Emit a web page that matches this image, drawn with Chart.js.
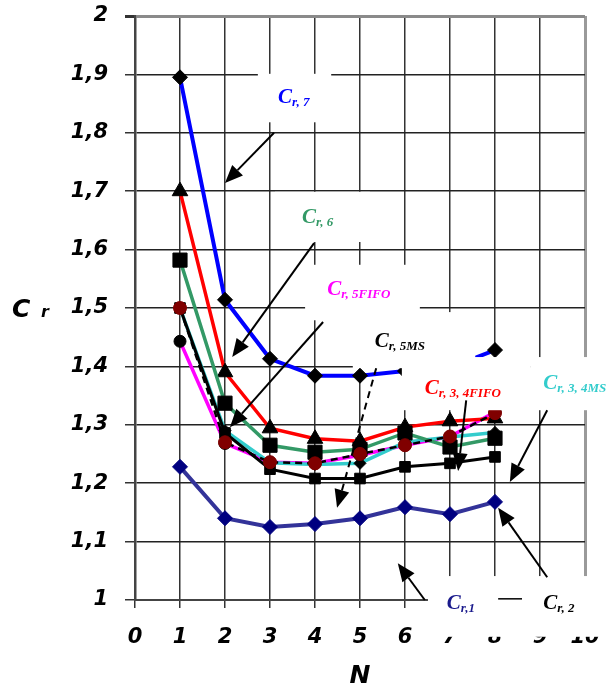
<!DOCTYPE html>
<html>
<head>
<meta charset="utf-8">
<script src="https://cdn.jsdelivr.net/npm/chart.js@4"></script>
<style>
  html, body { margin: 0; padding: 0; background: #fff; }
</style>
</head>
<body>
<canvas id="myChart" width="608" height="691"></canvas>
<script>
// data
const nValues = [1, 2, 3, 4, 5, 6, 7, 8];
const cr1 = [1.228, 1.140, 1.125, 1.130, 1.140, 1.159, 1.147, 1.168];
const cr2 = [1.500, 1.286, 1.224, 1.208, 1.208, 1.228, 1.234, 1.245];
const cr34ms = [1.500, 1.290, 1.235, 1.232, 1.234, 1.270, 1.279, 1.287];
const cr5fifo = [1.443, 1.268, 1.236, 1.234, 1.248, 1.265, 1.280, 1.322];
const cr5ms = [1.500, 1.270, 1.236, 1.234, 1.250, 1.265, 1.280, 1.320];
const cr6 = [1.582, 1.337, 1.265, 1.253, 1.258, 1.286, 1.262, 1.277];
const cr34fifo = [1.700, 1.390, 1.294, 1.276, 1.272, 1.296, 1.306, 1.311];
const cr7 = [1.895, 1.514, 1.413, 1.384, 1.384, 1.392, 1.398, 1.428];

const xTickLabels = ['0', '1', '2', '3', '4', '5', '6', '7', '8', '9', '10'];
const yTickLabels = ['1', '1,1', '1,2', '1,3', '1,4', '1,5', '1,6', '1,7', '1,8', '1,9', '2'];

// curve labels: subscript text, colour, position in (N, Cr) units
const noteLabels = [
  { sub: 'r, 7', color: '#0000FF', n: 3.18, cr: 1.851 },
  { sub: 'r, 6', color: '#339966', n: 3.71, cr: 1.645 },
  { sub: 'r, 5FIFO', color: '#FF00FF', n: 4.27, cr: 1.522 },
  { sub: 'r, 5MS', color: '#000000', n: 5.33, cr: 1.433 },
  { sub: 'r, 3, 4FIFO', color: '#FF0000', n: 6.44, cr: 1.353 },
  { sub: 'r, 3, 4MS', color: '#33CCCC', n: 9.07, cr: 1.361 },
  { sub: 'r,1', color: '#1a1a8c', n: 6.93, cr: 0.985 },
  { sub: 'r, 2', color: '#000000', n: 9.07, cr: 0.985 }
];
// white boxes behind the labels [n0, n1, cr0, cr1]
const noteBoxes = [
  [2.73, 4.36, 1.901, 1.818],
  [3.11, 5.22, 1.699, 1.613],
  [3.78, 6.33, 1.574, 1.479],
  [4.84, 7.56, 1.493, 1.397],
  [5.93, 8.78, 1.416, 1.325],
  [8.78, 10.6, 1.416, 1.325],
  [6.51, 10.6, 1.041, 0.937]
];
// arrows [nFrom, crFrom, nTo, crTo, dashed]
const noteArrows = [
  [3.09, 1.800, 2.00, 1.714, false],
  [3.98, 1.611, 2.16, 1.416, false],
  [4.18, 1.476, 2.11, 1.296, false],
  [5.36, 1.397, 4.49, 1.158, true],
  [7.36, 1.342, 7.18, 1.221, false],
  [9.16, 1.325, 8.33, 1.202, false],
  [9.16, 1.039, 8.07, 1.158, false],
  [6.44, 1.000, 5.84, 1.063, false]
];

function series(data, color, extra) {
  return Object.assign({
    data: nValues.map((n, i) => ({ x: n, y: data[i] })),
    borderColor: color,
    borderWidth: 3.5,
    pointBackgroundColor: '#000',
    pointBorderColor: '#000',
    pointBorderWidth: 1,
    tension: 0,
    fill: false
  }, extra);
}

function drawArrow(ctx, x0, y0, x1, y1, dashed) {
  const a = Math.atan2(y1 - y0, x1 - x0);
  const head = 18, half = 7.5;
  const bx = x1 - head * Math.cos(a), by = y1 - head * Math.sin(a);
  ctx.setLineDash(dashed ? [7, 5] : []);
  ctx.beginPath();
  ctx.moveTo(x0, y0);
  ctx.lineTo(bx, by);
  ctx.stroke();
  ctx.setLineDash([]);
  ctx.beginPath();
  ctx.moveTo(x1, y1);
  ctx.lineTo(bx + half * Math.sin(a), by - half * Math.cos(a));
  ctx.lineTo(bx - half * Math.sin(a), by + half * Math.cos(a));
  ctx.closePath();
  ctx.fill();
}

// labels, boxes and arrows drawn over the chart
const crAnnotations = {
  id: 'crAnnotations',
  afterDraw(chart) {
    const { ctx, scales: { x, y } } = chart;
    ctx.save();

    ctx.fillStyle = '#fff';
    noteBoxes.forEach(b => {
      const x0 = x.getPixelForValue(b[0]), x1 = x.getPixelForValue(b[1]);
      const y0 = y.getPixelForValue(b[2]), y1 = y.getPixelForValue(b[3]);
      ctx.fillRect(x0, y0, x1 - x0, y1 - y0);
    });

    ctx.textAlign = 'left';
    ctx.textBaseline = 'alphabetic';
    noteLabels.forEach(l => {
      const px = x.getPixelForValue(l.n), py = y.getPixelForValue(l.cr);
      ctx.fillStyle = l.color;
      ctx.font = 'bold italic 21px "Liberation Serif"';
      ctx.fillText('C', px, py);
      const w = ctx.measureText('C').width;
      ctx.font = 'bold italic 13px "Liberation Serif"';
      ctx.fillText(l.sub, px + w, py + 3);
    });

    // dash between C r,1 and C r,2
    ctx.strokeStyle = '#000';
    ctx.lineWidth = 1.5;
    ctx.beginPath();
    ctx.moveTo(x.getPixelForValue(8.07), y.getPixelForValue(1.002));
    ctx.lineTo(x.getPixelForValue(8.6), y.getPixelForValue(1.002));
    ctx.stroke();

    ctx.fillStyle = '#000';
    ctx.lineWidth = 2;
    noteArrows.forEach(a => {
      drawArrow(ctx, x.getPixelForValue(a[0]), y.getPixelForValue(a[1]),
        x.getPixelForValue(a[2]), y.getPixelForValue(a[3]), a[4]);
    });

    // y axis title "C r", horizontal
    const ty = y.getPixelForValue(1.5) + 9;
    ctx.fillStyle = '#000';
    ctx.font = 'bold italic 25px "DejaVu Sans"';
    ctx.fillText('C', 12, ty);
    ctx.font = 'bold italic 16px "DejaVu Sans"';
    ctx.fillText('r', 41, ty);

    ctx.restore();
  }
};

const tickFont = { family: 'DejaVu Sans', size: 21, weight: 'bold', style: 'italic' };

const config = {
  type: 'line',
  data: {
    datasets: [
      series(cr5ms, '#000', { borderWidth: 2.5, borderDash: [7, 5], pointStyle: 'circle', pointRadius: 6.5, pointBackgroundColor: '#800000', pointBorderColor: '#800000' }),
      series(cr2, '#000', { borderWidth: 3, pointStyle: 'rect', pointRadius: 7.5 }),
      series(cr6, '#339966', { pointStyle: 'rect', pointRadius: 10 }),
      series(cr34fifo, '#FF0000', { pointStyle: 'triangle', pointRadius: 9 }),
      series(cr7, '#0000FF', { borderWidth: 4, pointStyle: 'rectRot', pointRadius: 7.5 }),
      series(cr34ms, '#33CCCC', { pointStyle: 'rectRot', pointRadius: 6 }),
      series(cr5fifo, '#FF00FF', { pointStyle: 'circle', pointRadius: 6 }),
      series(cr1, '#333399', { borderWidth: 4, pointStyle: 'rectRot', pointRadius: 7.5, pointBackgroundColor: '#000080', pointBorderColor: '#000080' })
    ]
  },
  options: {
    responsive: false,
    animation: false,
    layout: { padding: { top: 16, right: 23, left: 0, bottom: 0 } },
    plugins: {
      legend: { display: false },
      tooltip: { enabled: false }
    },
    scales: {
      x: {
        type: 'linear',
        min: 0,
        max: 10,
        afterFit(scale) {
          scale.height = 91;
          scale.paddingLeft = 0;
          scale.paddingRight = 0;
        },
        ticks: {
          stepSize: 1,
          padding: 17,
          color: '#000',
          font: tickFont,
          callback: (v, i) => xTickLabels[i]
        },
        grid: {
          color: c => c.index === 10 ? '#9a9a9a' : '#333',
          lineWidth: c => c.index === 10 ? 3 : 1.5,
          tickLength: 8,
          tickColor: '#333'
        },
        border: { color: '#444', width: 2 },
        title: {
          display: true,
          text: 'N',
          color: '#000',
          padding: 0,
          font: { family: 'DejaVu Sans', size: 25, weight: 'bold', style: 'italic' }
        }
      },
      y: {
        min: 1,
        max: 2,
        afterFit(scale) {
          scale.width = 135;
          scale.paddingTop = 0;
          scale.paddingBottom = 0;
        },
        ticks: {
          stepSize: 0.1,
          padding: 17,
          color: '#000',
          font: tickFont,
          callback: (v, i) => yTickLabels[i]
        },
        grid: {
          color: c => c.index === 10 ? '#8a8a8a' : '#222',
          lineWidth: c => c.index === 10 ? 3 : 1.5,
          tickLength: 10,
          tickColor: '#333'
        },
        border: { color: '#444', width: 2.5 }
      }
    }
  },
  plugins: [crAnnotations]
};

const myChart = new Chart(document.getElementById('myChart'), config);
</script>
</body>
</html>
